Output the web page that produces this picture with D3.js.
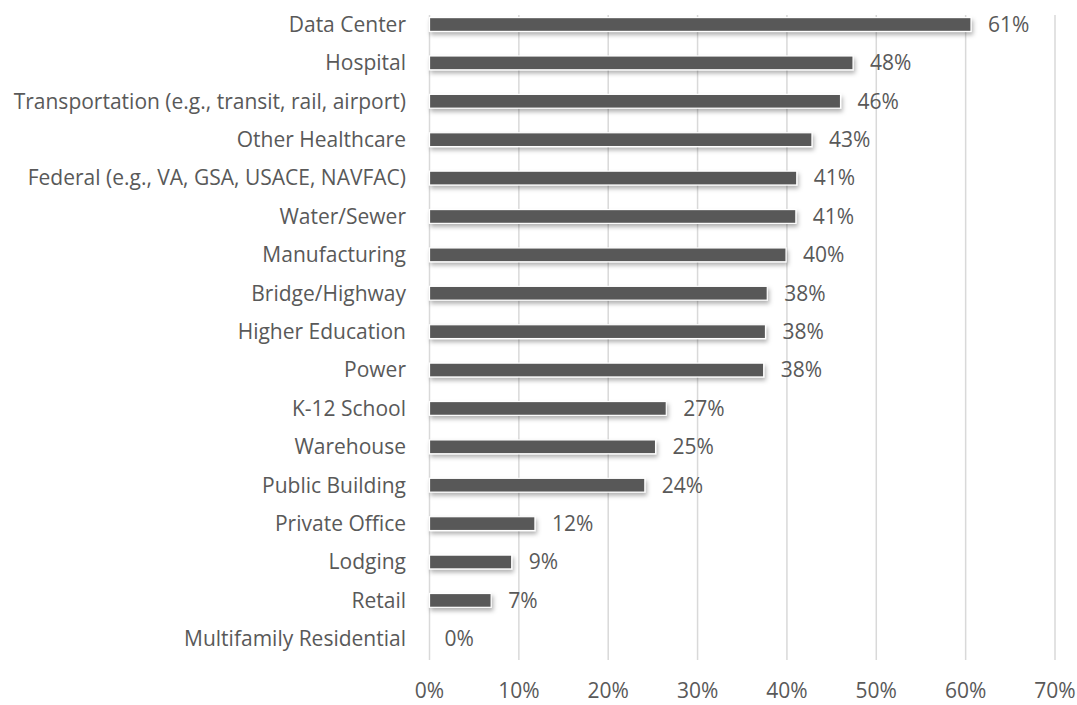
<!DOCTYPE html>
<html><head><meta charset="utf-8">
<script src="https://cdn.jsdelivr.net/npm/d3@7"></script>
<style>body{margin:0;background:#fff}svg{display:block}text{font-family:"Open Sans", sans-serif;fill:#595959}</style>
</head><body><svg id="c" width="1077" height="705"></svg>
<script>
const categories=["Data Center","Hospital","Transportation (e.g., transit, rail, airport)","Other Healthcare","Federal (e.g., VA, GSA, USACE, NAVFAC)","Water/Sewer","Manufacturing","Bridge/Highway","Higher Education","Power","K-12 School","Warehouse","Public Building","Private Office","Lodging","Retail","Multifamily Residential"];
const values=[60.6,47.4,46.0,42.8,41.1,41.0,39.9,37.8,37.6,37.4,26.5,25.3,24.1,11.8,9.2,6.9,0];
const labels=["61%","48%","46%","43%","41%","41%","40%","38%","38%","38%","27%","25%","24%","12%","9%","7%","0%"];
const ticks=[0,10,20,30,40,50,60,70];

const svg=d3.select("#c");
const x=d3.scaleLinear().domain([0,70]).range([429.5,1055]);
const y=d3.scaleBand().domain(categories).range([5.3,658]).paddingInner(0.64).paddingOuter(0.32);
const defs=svg.append("defs");
const f=defs.append("filter").attr("id","sh").attr("x","-5%").attr("y","-50%").attr("width","120%").attr("height","250%");
f.append("feDropShadow").attr("dx",1.5).attr("dy",3).attr("stdDeviation",2).attr("flood-color","#000").attr("flood-opacity",0.3);

svg.append("g").selectAll("line").data(ticks).join("line")
 .attr("x1",d=>x(d)).attr("x2",d=>x(d)).attr("y1",15).attr("y2",660)
 .attr("stroke","#d9d9d9").attr("stroke-width",1.5);

svg.append("g").selectAll("rect").data(values).join("rect")
 .attr("x",x(0)).attr("y",(d,i)=>y(categories[i]))
 .attr("width",d=>x(d)-x(0)).attr("height",y.bandwidth())
 .attr("fill",d=>d>0?"#595959":"none").attr("stroke",d=>d>0?"#fff":"none").attr("stroke-width",1.2)
 .attr("filter","url(#sh)");

svg.append("g").selectAll("text").data(values).join("text")
 .attr("x",d=>x(d)+(d>0?17:15)).attr("y",(d,i)=>y(categories[i])+y.bandwidth()/2)
 .attr("dy","0.35em").attr("font-size",21).text((d,i)=>labels[i]);

svg.append("g").selectAll("text").data(categories).join("text")
 .attr("x",406).attr("y",d=>y(d)+y.bandwidth()/2).attr("dy","0.35em")
 .attr("text-anchor","end").attr("font-size",21).text(d=>d);

svg.append("g").selectAll("text").data(ticks).join("text")
 .attr("x",d=>x(d)).attr("y",691).attr("dy","0.35em").attr("text-anchor","middle")
 .attr("font-size",21).text(d=>d+"%");
</script></body></html>
